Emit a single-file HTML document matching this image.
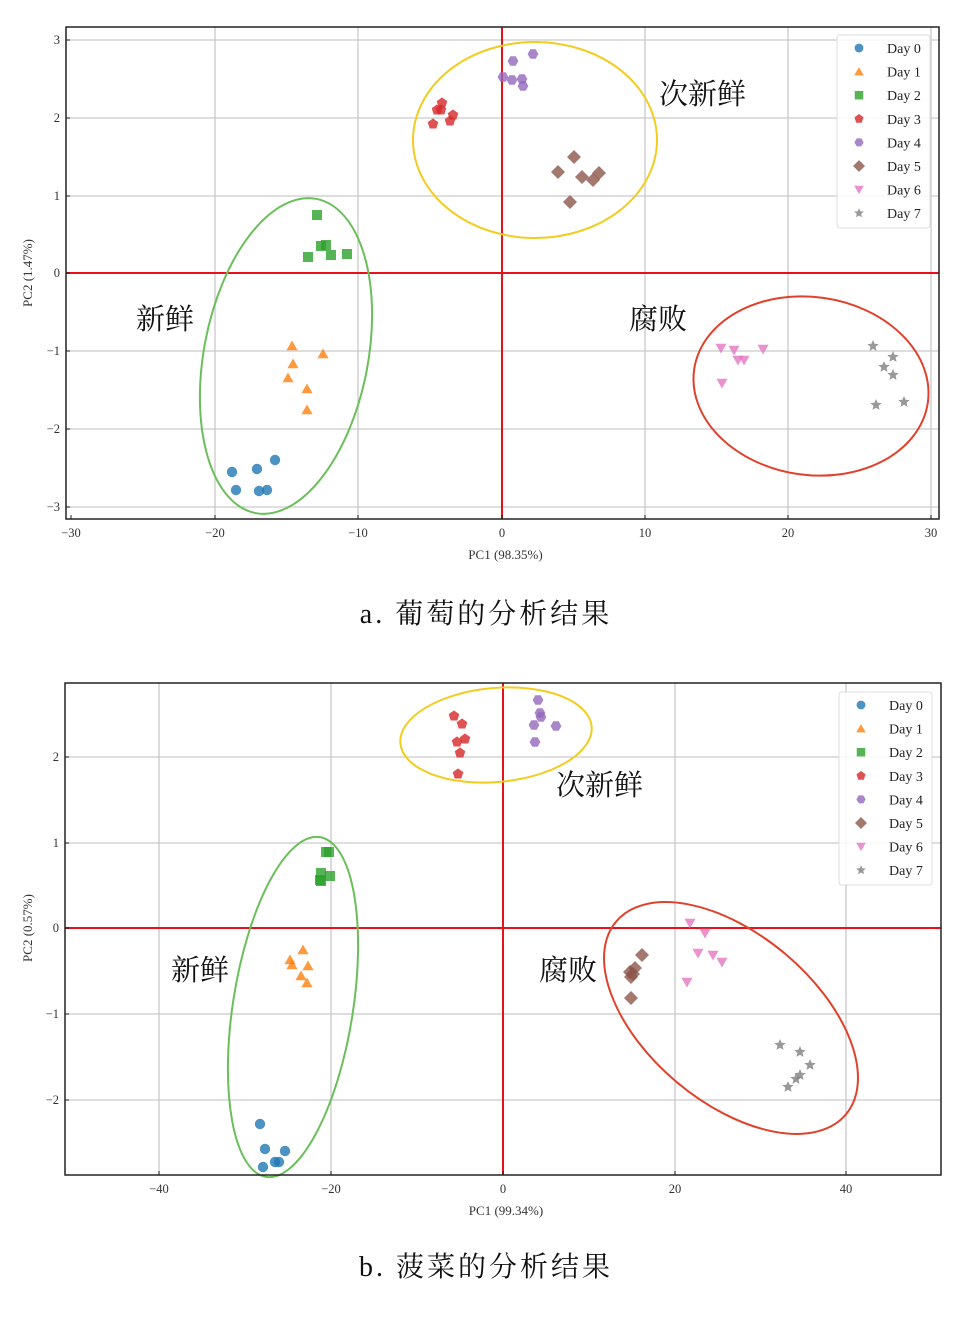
<!DOCTYPE html>
<html><head><meta charset="utf-8"><style>
body{margin:0;background:#fff;width:971px;height:1317px;overflow:hidden}
svg{position:absolute;left:0;top:0}
text{font-family:"Liberation Serif","Noto Serif CJK SC",serif}
.cn{font-family:"Liberation Serif","Noto Serif CJK SC","Noto Sans CJK SC",serif}
</style></head><body>
<svg id="s" width="971" height="1317" xmlns="http://www.w3.org/2000/svg"></svg>
<script>
const S=document.getElementById('s');let h='';
const C=['#1f77b4','#ff7f0e','#2ca02c','#d62728','#9467bd','#8c564b','#e377c2','#7f7f7f'];
function poly(n,r,x,y,rot){let p=[];for(let i=0;i<n;i++){let a=rot+i*2*Math.PI/n;p.push((x+r*Math.cos(a)).toFixed(1)+','+(y+r*Math.sin(a)).toFixed(1));}return p.join(' ');}
function star(x,y,r){let p=[];for(let i=0;i<10;i++){let rr=i%2?r*0.45:r;let a=-Math.PI/2+i*Math.PI/5;p.push((x+rr*Math.cos(a)).toFixed(1)+','+(y+rr*Math.sin(a)).toFixed(1));}return p.join(' ');}
function mk(t,x,y,s){s=s||1;const c=C[t];const st=`fill="${c}" fill-opacity="0.8"`;
switch(t){case 0:return `<circle cx="${x}" cy="${y}" r="${5.2*s}" ${st}/>`;
case 1:return `<polygon points="${poly(3,6.5*s,x,y+1,-Math.PI/2)}" ${st}/>`;
case 2:return `<rect x="${x-5*s}" y="${y-5*s}" width="${10*s}" height="${10*s}" ${st}/>`;
case 3:return `<polygon points="${poly(5,5.6*s,x,y,-Math.PI/2)}" ${st}/>`;
case 4:return `<polygon points="${poly(6,5.4*s,x,y,0)}" ${st}/>`;
case 5:return `<polygon points="${poly(4,7*s,x,y,0)}" ${st}/>`;
case 6:return `<polygon points="${poly(3,6.5*s,x,y-1,Math.PI/2)}" ${st}/>`;
case 7:return `<polygon points="${star(x,y,6*s)}" ${st}/>`;}}
function chart(o){
 o.gx.forEach(x=>h+=`<line x1="${x}" y1="${o.t}" x2="${x}" y2="${o.b}" stroke="#c9c9c9" stroke-width="1.3"/>`);
 o.gy.forEach(y=>h+=`<line x1="${o.l}" y1="${y}" x2="${o.r}" y2="${y}" stroke="#c9c9c9" stroke-width="1.3"/>`);
 h+=`<line x1="${o.x0}" y1="${o.t}" x2="${o.x0}" y2="${o.b}" stroke="#e8101a" stroke-width="2"/>`;
 h+=`<line x1="${o.l}" y1="${o.y0}" x2="${o.r}" y2="${o.y0}" stroke="#e8101a" stroke-width="2"/>`;
 o.pts.forEach((g,i)=>g.forEach(p=>h+=mk(i,p[0],p[1])));
 o.ell.forEach(e=>h+=`<ellipse cx="${e[0]}" cy="${e[1]}" rx="${e[2]}" ry="${e[3]}" transform="rotate(${e[4]} ${e[0]} ${e[1]})" fill="none" stroke="${e[5]}" stroke-width="2"/>`);
 h+=`<rect x="${o.l}" y="${o.t}" width="${o.r-o.l}" height="${o.b-o.t}" fill="none" stroke="#222" stroke-width="1.5"/>`;
 o.xt.forEach(t=>{h+=`<line x1="${t[0]}" y1="${o.b}" x2="${t[0]}" y2="${o.b-4}" stroke="#222"/><text x="${t[0]}" y="${o.b+18}" font-size="12.5" text-anchor="middle" fill="#333">${t[1]}</text>`;});
 o.yt.forEach(t=>{h+=`<line x1="${o.l}" y1="${t[0]}" x2="${o.l+4}" y2="${t[0]}" stroke="#222"/><text x="${o.l-6}" y="${t[0]+4}" font-size="12.5" text-anchor="end" fill="#333">${t[1]}</text>`;});
 h+=`<text x="${(o.l+o.r)/2+3}" y="${o.b+40}" font-size="13" text-anchor="middle" fill="#333">${o.xl}</text>`;
 h+=`<text transform="translate(${32},${o.y0}) rotate(-90)" font-size="13" text-anchor="middle" fill="#333">${o.yl}</text>`;
 const L=o.leg;h+=`<rect x="${L[0]}" y="${L[1]}" width="93" height="193" rx="3" fill="#fff" fill-opacity="0.85" stroke="#ddd"/>`;
 for(let i=0;i<8;i++){let y=L[1]+13+i*23.6;h+=mk(i,L[0]+22,y,0.85)+`<text x="${L[0]+50}" y="${y+5}" font-size="14" fill="#222">Day ${i}</text>`;}
 o.lab.forEach(t=>h+=`<text class="cn" x="${t[0]}" y="${t[1]}" font-size="29" fill="#111">${t[2]}</text>`);
 h+=`<text class="cn" x="486" y="${o.cap}" font-size="28" letter-spacing="3" text-anchor="middle" fill="#111">${o.capt}</text>`;
}
chart({l:66,r:939,t:27,b:519,x0:502,y0:273,
 gx:[215,358,645,788,931],gy:[40,118,196,351,429,507],
 xt:[[71,'−30'],[215,'−20'],[358,'−10'],[502,'0'],[645,'10'],[788,'20'],[931,'30']],
 yt:[[40,'3'],[118,'2'],[196,'1'],[273,'0'],[351,'−1'],[429,'−2'],[507,'−3']],
 xl:'PC1 (98.35%)',yl:'PC2 (1.47%)',leg:[837,35],
 pts:[[[232,472],[257,469],[275,460],[236,490],[259,491],[267,490]],
 [[292,346],[323,354],[293,364],[288,378],[307,389],[307,410]],
 [[317,215],[308,257],[321,246],[326,245],[331,255],[347,254]],
 [[442,103],[437,110],[441,110],[453,115],[450,121],[433,124]],
 [[533,54],[513,61],[503,77],[512,80],[522,79],[523,86]],
 [[574,157],[558,172],[582,177],[599,173],[593,180],[570,202]],
 [[721,348],[734,350],[738,360],[744,360],[763,349],[722,383]],
 [[873,346],[893,357],[884,367],[893,375],[876,405],[904,402]]],
 ell:[[286,356,82,160,11,'#6abf5a'],[535,140,122,98,0,'#f2cc1e'],[811,386,118,89,8,'#e0412c']],
 lab:[[659,104,'次新鲜'],[136,329,'新鲜'],[629,329,'腐败']],cap:623,capt:'a. 葡萄的分析结果'});
chart({l:65,r:941,t:683,b:1175,x0:503,y0:928,
 gx:[159,331,675,846],gy:[757,843,1014,1100],
 xt:[[159,'−40'],[331,'−20'],[503,'0'],[675,'20'],[846,'40']],
 yt:[[757,'2'],[843,'1'],[928,'0'],[1014,'−1'],[1100,'−2']],
 xl:'PC1 (99.34%)',yl:'PC2 (0.57%)',leg:[839,692],
 pts:[[[260,1124],[265,1149],[285,1151],[275,1162],[279,1162],[263,1167]],
 [[303,950],[290,960],[292,965],[308,966],[301,976],[307,983]],
 [[326,852],[329,852],[321,873],[330,876],[320,880],[321,881]],
 [[454,716],[462,724],[465,739],[457,742],[460,753],[458,774]],
 [[538,700],[540,713],[541,717],[534,725],[556,726],[535,742]],
 [[642,955],[635,968],[630,972],[631,977],[633,974],[631,998]],
 [[690,923],[705,933],[698,953],[713,955],[722,962],[687,982]],
 [[780,1045],[800,1052],[810,1065],[800,1075],[796,1079],[788,1087]]],
 ell:[[293,1007,60,172,9,'#6abf5a'],[496,735,96,47,-5,'#f2cc1e'],[731,1018,150,84,40,'#e0412c']],
 lab:[[556,795,'次新鲜'],[171,980,'新鲜'],[539,980,'腐败']],cap:1276,capt:'b. 菠菜的分析结果'});
S.innerHTML=h;
</script>
</body></html>
